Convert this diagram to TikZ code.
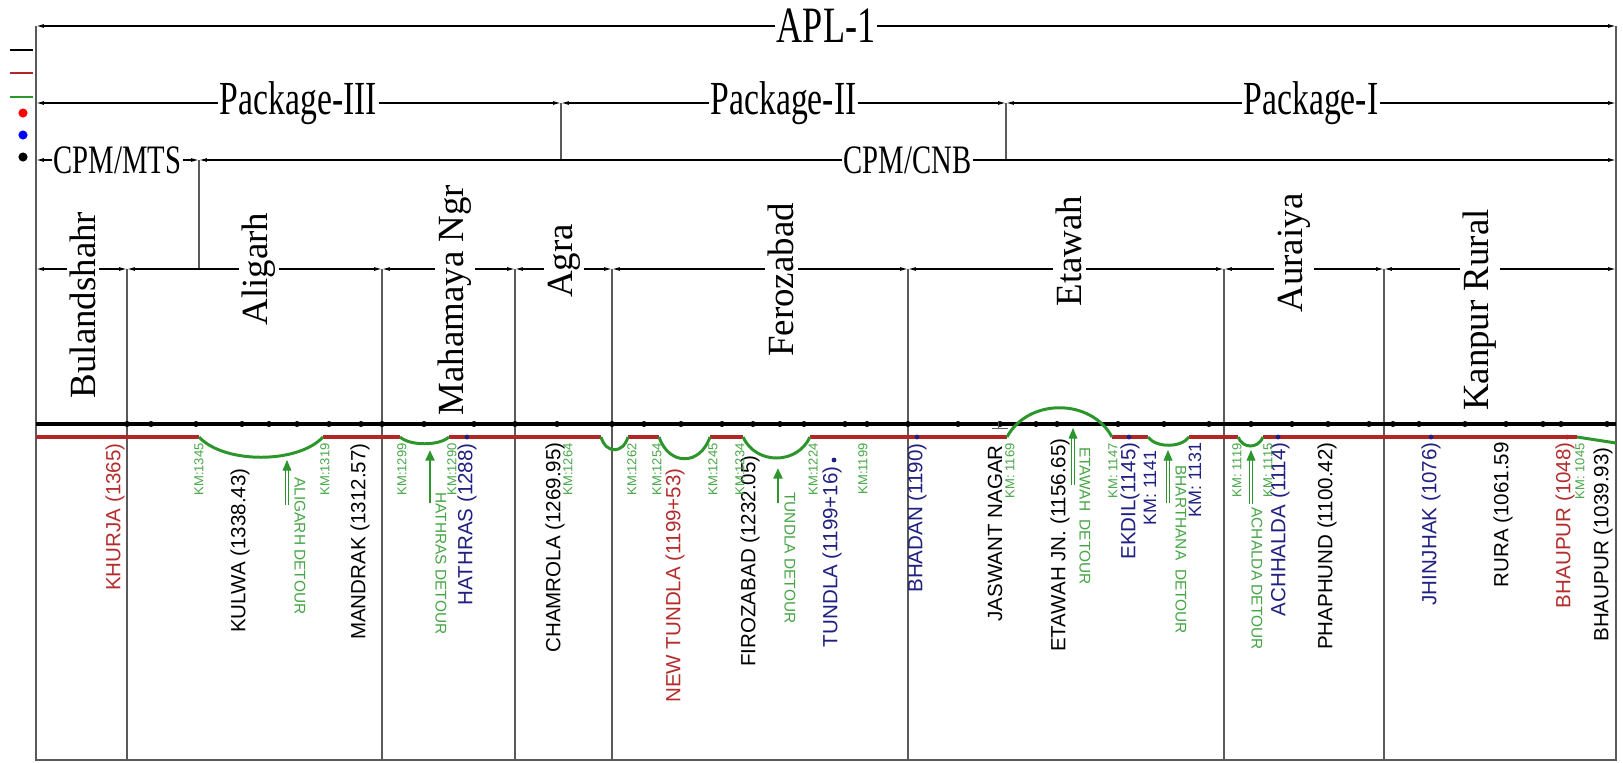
\documentclass[tikz,border=0pt]{standalone}
\usepackage{fontspec}
\setmainfont{Liberation Serif}
\setsansfont{Liberation Sans}
\newfontfamily\hdfont[FakeStretch=0.71]{Liberation Serif}
\usetikzlibrary{arrows.meta}
\definecolor{trkred}{RGB}{178,38,38}
\definecolor{trkgreen}{RGB}{44,150,44}
\definecolor{lblgreen}{RGB}{70,165,70}
\definecolor{lblblue}{RGB}{32,32,128}
\definecolor{lblred}{RGB}{180,45,45}
\definecolor{divgray}{RGB}{90,90,90}
\tikzset{
  dimline/.style={line width=0.6pt, {Latex[length=4.5pt,width=2.2pt]}-{Latex[length=4.5pt,width=2.2pt]}},
  divline/.style={line width=0.6pt, divgray},
  hdlbl/.style={fill=white, inner sep=1pt, font=\hdfont\fontsize{#1}{#1}\selectfont},
  distlbl/.style={fill=white, inner sep=2pt, rotate=90, font=\fontsize{21}{21}\selectfont},
  stn/.style={rotate=90, anchor=east, inner sep=0pt, font=\sffamily\fontsize{11.7}{12}\selectfont},
  kmlbl/.style={rotate=90, anchor=east, inner sep=0pt, text=lblgreen, font=\sffamily\fontsize{7.4}{8}\selectfont},
  kmblue/.style={rotate=90, anchor=east, inner sep=0pt, text=lblblue, font=\sffamily\fontsize{10.2}{11}\selectfont},
  detlbl/.style={rotate=-90, anchor=west, inner sep=0pt, text=lblgreen, font=\sffamily\fontsize{8.8}{9}\selectfont},
  detarrow/.style={trkgreen, line width=0.5pt, double distance=1.1pt, -{Triangle[length=6pt,width=5pt]}},
  detsingle/.style={trkgreen, line width=1.5pt, -{Triangle[length=6pt,width=5pt]}},
  blktrack/.style={line width=2.3pt, black},
  redtrack/.style={line width=2pt, trkred},
  grntrack/.style={line width=1.7pt, trkgreen},
}

\begin{document}
\begin{tikzpicture}[x=0.02cm,y=-0.02cm]
  \useasboundingbox (0,0) rectangle (1623,762);

  % frame
  \coordinate (tl) at (36,26);
  \coordinate (tr) at (1616,26);
  \coordinate (bl) at (36,760);
  \coordinate (br) at (1616,760);
  \draw[divline] (tl) -- (bl) -- (br) -- (tr);

  % legend
  \draw[line width=1.2pt, black] (10,50) -- (33,50);
  \draw[line width=1.2pt, trkred] (10,73) -- (33,73);
  \draw[line width=1.2pt, trkgreen] (10,97) -- (33,97);
  \fill[red] (23,113) circle (2.6pt);
  \fill[blue] (23,135) circle (2.6pt);
  \fill[black] (23,157) circle (2.6pt);

  % header rows
  \draw[dimline] (tl) -- (tr) node[hdlbl=29, midway] (apl) {APL-1};

  \coordinate (p0) at (36,103);
  \coordinate (p1) at (561,103);
  \coordinate (p2) at (1006,103);
  \coordinate (p3) at (1616,103);
  \draw[dimline] (p0) -- (p1) node[hdlbl=27, midway] (pk3) {Package-III};
  \draw[dimline] (p1) -- (p2) node[hdlbl=27, midway] (pk2) {Package-II};
  \draw[dimline] (p2) -- (p3) node[hdlbl=27, midway] (pk1) {Package-I};

  \coordinate (c0) at (36,160);
  \coordinate (c1) at (199,160);
  \coordinate (c2) at (1616,160);
  \draw[divline] (p1) -- (p1 |- c0);
  \draw[divline] (p2) -- (p2 |- c0);
  \draw[dimline] (c0) -- (c1) node[hdlbl=23, midway] (mts) {CPM/MTS};
  \draw[dimline] (c1) -- (c2) node[hdlbl=23, midway] (cnb) {CPM/CNB};

  % district row
  \foreach \i/\x in {0/36,1/127,2/382,3/515,4/612,5/908,6/1224,7/1384,8/1616}
    \coordinate (d\i) at (\x,269);
  \draw[divline] (c1) -- (c1 |- d0);
  \foreach \i [count=\j] in {0,...,7}
    \draw[dimline] (d\i) -- (d\j);
  \foreach \i in {1,...,7}
    \draw[divline] (d\i) -- (d\i |- bl);
  \node[distlbl] (bul) at (83,305) {Bulandshahr};
  \node[distlbl] (ali) at (259,269) {Aligarh};
  \node[distlbl] (mah) at (455,300) {Mahamaya Ngr};
  \node[distlbl] (agr) at (564,261) {Agra};
  \node[distlbl] (fer) at (781,280) {Ferozabad};
  \node[distlbl] (eta) at (1069,251) {Etawah};
  \node[distlbl] (aur) at (1294,253) {Auraiya};
  \node[distlbl] (kan) at (1480,310) {Kanpur Rural};

  % tracks
  \draw[blktrack] (36,424) -- (1616,424);
  \foreach \x in {127,151,196,242,269,297,329,361,382,424,474,515,557,612,644,681,722,753,
                  780,804,845,867,908,958,1000,1036,1057,1118,1164,1209,1251,1292,1328,
                  1369,1393,1419,1465,1506,1543,1561,1607}
    \fill (\x,424) circle (1.7pt);
  \draw[line width=0.5pt, divgray] (992,428) -- (1008,428);
  \draw[line width=0.5pt, divgray] (998,421) -- (998,428);

  \foreach \a/\b in {36/199,323/400,449/601,628/659,710/743,810/1007,1112/1148,1189/1238,1263/1577}
    \draw[redtrack] (\a,437) -- (\b,437);

  \draw[grntrack] (199,437) .. controls (224,464) and (298,464) .. (323,437);
  \draw[grntrack] (400,437) .. controls (410,446) and (439,446) .. (449,437);
  \draw[grntrack] (601,437) .. controls (606,454) and (623,454) .. (628,437);
  \draw[grntrack] (659,437) .. controls (669,466) and (700,466) .. (710,437);
  \draw[grntrack] (743,437) .. controls (756,465) and (797,465) .. (810,437);
  \draw[grntrack] (1007,437) .. controls (1028,398) and (1091,398) .. (1112,437);
  \draw[grntrack] (1148,437) .. controls (1156,448) and (1181,448) .. (1189,437);
  \draw[grntrack] (1238,437) .. controls (1243,449) and (1258,449) .. (1263,437);
  \draw[grntrack] (1577,437) -- (1616,443);

  % station dots
  \fill[trkred] (127,437) circle (1.4pt);
  \fill[lblblue] (467,437) circle (1.4pt);
  \fill[lblblue] (834,460) circle (1.4pt);
  \fill[lblblue] (917,437) circle (1.4pt);
  \fill[lblblue] (1129,437) circle (1.4pt);
  \fill[lblblue] (1278,437) circle (1.4pt);
  \fill[lblblue] (1431,437) circle (1.4pt);
  \fill[trkred] (1567,437) circle (1.4pt);

  % stations
  \node[stn, text=lblred] (khu) at (115,443) {KHURJA (1365)};
  \node[stn] (kul) at (240,468) {KULWA (1338.43)};
  \node[stn] (man) at (360,443) {MANDRAK (1312.57)};
  \node[stn, text=lblblue] (hat) at (467,443) {HATHRAS (1288)};
  \node[stn] (cha) at (555,442) {CHAMROLA (1269.95)};
  \node[stn, text=lblred] (ntu) at (675,468) {NEW TUNDLA (1199+53)};
  \node[stn] (fir) at (750,455) {FIROZABAD (1232.05)};
  \node[stn, text=lblblue] (tun) at (832,466) {TUNDLA (1199+16)};
  \node[stn, text=lblblue] (bha) at (917,443) {BHADAN (1190)};
  \node[stn] (jas) at (995,445) {JASWANT NAGAR};
  \node[stn] (etj) at (1060,438) {ETAWAH JN. (1156.65)};
  \node[stn, text=lblblue] (ekd) at (1130,442) {EKDIL(1145)};
  \node[stn, text=lblblue] (ach) at (1280,442) {ACHHALDA (1114)};
  \node[stn] (pha) at (1327,442) {PHAPHUND (1100.42)};
  \node[stn, text=lblblue] (jhi) at (1431,442) {JHINJHAK (1076)};
  \node[stn] (rur) at (1503,442) {RURA (1061.59};
  \node[stn, text=lblred] (bpr) at (1565,442) {BHAUPUR (1048)};
  \node[stn] (bpb) at (1603,447) {BHAUPUR (1039.93)};
  \node[kmblue] (k1141) at (1150,450) {KM: 1141};
  \node[kmblue] (k1131) at (1195,442) {KM: 1131};

  % km marks
  \foreach \x/\t in {199/KM:1345,325/KM:1319,402/KM:1299,452/KM:1290,568/KM:1264,
                     632/KM:1262,657/KM:1254,713/KM:1245,740/KM:1234,813/KM:1224,
                     863/KM:1199,1010/KM: 1169,1113/KM: 1147,1237/KM: 1119,
                     1268/KM: 1115,1580/KM: 1045}
    \node[kmlbl] at (\x,443) {\t};

  % detours
  \draw[detarrow] (287,505) -- (287,460);
  \draw[detsingle] (430,503) -- (430,450);
  \draw[detsingle] (778,503) -- (778,468);
  \draw[detarrow] (1073,485) -- (1073,428);
  \draw[detarrow] (1168,503) -- (1168,450);
  \draw[detarrow] (1251,504) -- (1251,450);
  \node[detlbl] (dal) at (300,477) {ALIGARH DETOUR};
  \node[detlbl] (dha) at (441,492) {HATHRAS DETOUR};
  \node[detlbl] (dtu) at (790,492) {TUNDLA DETOUR};
  \node[detlbl] (det) at (1085,447) {ETAWAH\ \ DETOUR};
  \node[detlbl] (dbh) at (1181,465) {BHARTHANA\ \ DETOUR};
  \node[detlbl] (dac) at (1257,507) {ACHALDA DETOUR};
\end{tikzpicture}
\end{document}
